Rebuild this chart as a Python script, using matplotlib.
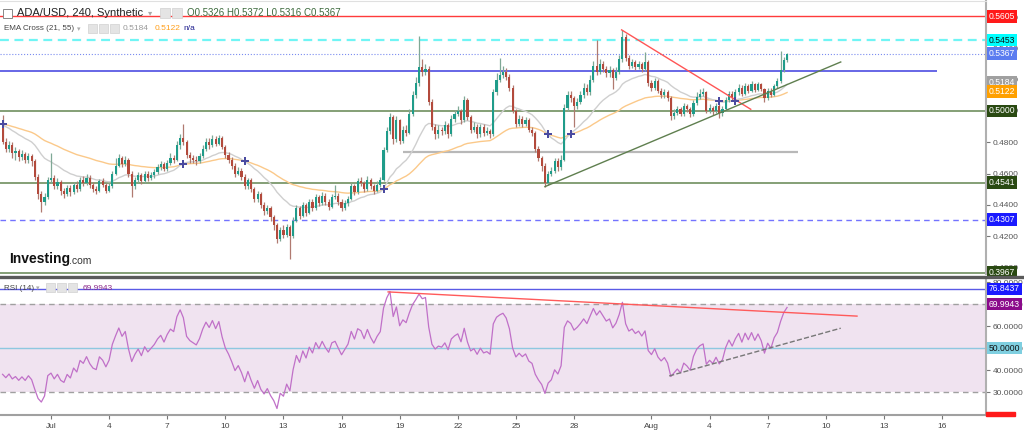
import numpy as np
import pandas as pd
import matplotlib
matplotlib.use("Agg")
import matplotlib.pyplot as plt
import matplotlib.dates as mdates
import matplotlib.transforms as mtransforms
from matplotlib.patches import Rectangle
from matplotlib.lines import Line2D

FONT = ["Liberation Sans", "DejaVu Sans"]
plt.rcParams["font.family"] = FONT

# ADA/USD 4h candles, open of each candle = previous close
first_open = 0.4915
closes = [
    0.4800, 0.4760, 0.4785, 0.4730, 0.4745, 0.4705, 0.4725, 0.4690, 0.4715, 0.4680,
    0.4580, 0.4470, 0.4420, 0.4450, 0.4560, 0.4575, 0.4520, 0.4545, 0.4490, 0.4470,
    0.4510, 0.4480, 0.4530, 0.4500, 0.4560, 0.4540, 0.4575, 0.4530, 0.4500, 0.4490,
    0.4550, 0.4530, 0.4490, 0.4520, 0.4600, 0.4650, 0.4700, 0.4660, 0.4690, 0.4600,
    0.4520, 0.4560, 0.4590, 0.4550, 0.4600, 0.4570, 0.4590, 0.4610, 0.4640, 0.4660,
    0.4630, 0.4670, 0.4700, 0.4690, 0.4780, 0.4830, 0.4800, 0.4720, 0.4700, 0.4690,
    0.4680, 0.4710, 0.4760, 0.4800, 0.4780, 0.4820, 0.4790, 0.4830, 0.4770, 0.4720,
    0.4690, 0.4650, 0.4600, 0.4620, 0.4580, 0.4520, 0.4560, 0.4500, 0.4440, 0.4470,
    0.4400, 0.4360, 0.4380, 0.4320, 0.4270, 0.4180, 0.4240, 0.4210, 0.4260, 0.4200,
    0.4300, 0.4380, 0.4330, 0.4400, 0.4350, 0.4420, 0.4380, 0.4450, 0.4410, 0.4460,
    0.4420, 0.4390, 0.4450, 0.4460, 0.4420, 0.4380, 0.4410, 0.4440, 0.4520, 0.4480,
    0.4550, 0.4540, 0.4500, 0.4560, 0.4520, 0.4490, 0.4530, 0.4560, 0.4750, 0.4870,
    0.4960, 0.4820, 0.4940, 0.4810, 0.4880, 0.4860, 0.4980, 0.5100, 0.5180, 0.5280,
    0.5250, 0.5270, 0.5060, 0.4900, 0.4850, 0.4880, 0.4870, 0.4910, 0.4850, 0.4950,
    0.4980, 0.5000, 0.4940, 0.5070, 0.4960, 0.4880, 0.4900, 0.4850, 0.4900, 0.4860,
    0.4870, 0.4850, 0.5120, 0.5200, 0.5230, 0.5250, 0.5220, 0.5150, 0.5000, 0.4920,
    0.4950, 0.4920, 0.4940, 0.4880, 0.4860, 0.4760, 0.4700, 0.4650, 0.4540, 0.4600,
    0.4620, 0.4680, 0.4640, 0.4690, 0.5020, 0.5100, 0.5080, 0.5030, 0.5060, 0.5100,
    0.5150, 0.5120, 0.5200, 0.5290, 0.5250, 0.5300, 0.5270, 0.5240, 0.5260, 0.5210,
    0.5250, 0.5330, 0.5470, 0.5340, 0.5290, 0.5310, 0.5280, 0.5300, 0.5270, 0.5310,
    0.5180, 0.5150, 0.5190, 0.5130, 0.5100, 0.5120, 0.5080, 0.4970, 0.4990, 0.5010,
    0.4980, 0.5030, 0.5010, 0.4980, 0.5050, 0.5090, 0.5110, 0.5120, 0.5000, 0.5020,
    0.5000, 0.5030, 0.4990, 0.5010, 0.5070, 0.5110, 0.5080, 0.5120, 0.5150, 0.5110,
    0.5160, 0.5130, 0.5170, 0.5135, 0.5170, 0.5140, 0.5080, 0.5130, 0.5105, 0.5160,
    0.5190, 0.5260, 0.5326, 0.5367,
]
highs = [
    0.4975, 0.4830, 0.4810, 0.4800, 0.4770, 0.4760, 0.4750, 0.4740, 0.4730, 0.4725,
    0.4695, 0.4600, 0.4490, 0.4475, 0.4580, 0.4730, 0.4590, 0.4570, 0.4560, 0.4510,
    0.4530, 0.4525, 0.4545, 0.4550, 0.4580, 0.4585, 0.4600, 0.4590, 0.4545, 0.4520,
    0.4565, 0.4570, 0.4540, 0.4540, 0.4620, 0.4700, 0.4725, 0.4715, 0.4710, 0.4700,
    0.4615, 0.4580, 0.4610, 0.4605, 0.4620, 0.4615, 0.4610, 0.4630, 0.4660, 0.4680,
    0.4675, 0.4690, 0.4730, 0.4720, 0.4810, 0.4850, 0.4917, 0.4815, 0.4740, 0.4720,
    0.4710, 0.4730, 0.4780, 0.4830, 0.4825, 0.4845, 0.4840, 0.4845, 0.4840, 0.4785,
    0.4735, 0.4705, 0.4665, 0.4645, 0.4635, 0.4595, 0.4575, 0.4570, 0.4515, 0.4490,
    0.4485, 0.4420, 0.4400, 0.4395, 0.4335, 0.4285, 0.4260, 0.4270, 0.4280, 0.4270,
    0.4320, 0.4400, 0.4395, 0.4420, 0.4410, 0.4440, 0.4435, 0.4470, 0.4465, 0.4480,
    0.4475, 0.4440, 0.4470, 0.4527, 0.4475, 0.4435, 0.4430, 0.4460, 0.4540, 0.4535,
    0.4575, 0.4580, 0.4555, 0.4585, 0.4575, 0.4535, 0.4550, 0.4580, 0.4770, 0.4900,
    0.4990, 0.4975, 0.4965, 0.4950, 0.4905, 0.4910, 0.5010, 0.5130, 0.5220, 0.5479,
    0.5330, 0.5300, 0.5285, 0.5075, 0.4920, 0.4910, 0.4900, 0.4935, 0.4925, 0.4975,
    0.5005, 0.5030, 0.5015, 0.5095, 0.5085, 0.4975, 0.4930, 0.4915, 0.4920, 0.4915,
    0.4895, 0.4885, 0.5140, 0.5240, 0.5338, 0.5290, 0.5275, 0.5235, 0.5165, 0.5015,
    0.4975, 0.4965, 0.4960, 0.4955, 0.4900, 0.4875, 0.4775, 0.4715, 0.4665, 0.4620,
    0.4645, 0.4700, 0.4700, 0.4720, 0.5045, 0.5130, 0.5125, 0.5095, 0.5085, 0.5125,
    0.5180, 0.5170, 0.5230, 0.5320, 0.5453, 0.5330, 0.5320, 0.5290, 0.5285, 0.5275,
    0.5280, 0.5360, 0.5518, 0.5490, 0.5355, 0.5335, 0.5325, 0.5320, 0.5315, 0.5375,
    0.5325, 0.5200, 0.5210, 0.5205, 0.5145, 0.5140, 0.5135, 0.5095, 0.5010, 0.5030,
    0.5025, 0.5050, 0.5045, 0.5025, 0.5070, 0.5120, 0.5140, 0.5145, 0.5130, 0.5045,
    0.5035, 0.5050, 0.5045, 0.5030, 0.5090, 0.5130, 0.5125, 0.5140, 0.5170, 0.5165,
    0.5180, 0.5175, 0.5190, 0.5180, 0.5185, 0.5180, 0.5150, 0.5150, 0.5145, 0.5175,
    0.5210, 0.5380, 0.5345, 0.5372,
]
lows = [
    0.4790, 0.4735, 0.4740, 0.4700, 0.4690, 0.4680, 0.4690, 0.4665, 0.4670, 0.4650,
    0.4560, 0.4440, 0.4355, 0.4400, 0.4440, 0.4540, 0.4500, 0.4505, 0.4465, 0.4445,
    0.4460, 0.4460, 0.4470, 0.4485, 0.4490, 0.4520, 0.4530, 0.4510, 0.4480, 0.4470,
    0.4480, 0.4515, 0.4475, 0.4480, 0.4510, 0.4590, 0.4640, 0.4640, 0.4650, 0.4580,
    0.4450, 0.4505, 0.4545, 0.4535, 0.4540, 0.4555, 0.4560, 0.4575, 0.4595, 0.4625,
    0.4615, 0.4620, 0.4655, 0.4670, 0.4680, 0.4760, 0.4785, 0.4700, 0.4670, 0.4665,
    0.4655, 0.4665, 0.4700, 0.4745, 0.4760, 0.4770, 0.4775, 0.4780, 0.4755, 0.4700,
    0.4670, 0.4630, 0.4580, 0.4590, 0.4560, 0.4500, 0.4505, 0.4480, 0.4420, 0.4420,
    0.4380, 0.4335, 0.4340, 0.4300, 0.4240, 0.4160, 0.4170, 0.4190, 0.4195, 0.4055,
    0.4190, 0.4290, 0.4310, 0.4320, 0.4330, 0.4340, 0.4360, 0.4370, 0.4395, 0.4400,
    0.4400, 0.4370, 0.4380, 0.4435, 0.4400, 0.4360, 0.4365, 0.4395, 0.4430, 0.4465,
    0.4470, 0.4520, 0.4480, 0.4490, 0.4500, 0.4470, 0.4480, 0.4515, 0.4550, 0.4735,
    0.4850, 0.4790, 0.4800, 0.4790, 0.4795, 0.4840, 0.4850, 0.4965, 0.5085, 0.5160,
    0.5225, 0.5230, 0.5040, 0.4880, 0.4820, 0.4830, 0.4845, 0.4855, 0.4830, 0.4840,
    0.4930, 0.4965, 0.4920, 0.4930, 0.4940, 0.4860, 0.4865, 0.4830, 0.4835, 0.4840,
    0.4845, 0.4830, 0.4840, 0.5100, 0.5185, 0.5210, 0.5200, 0.5130, 0.4985, 0.4900,
    0.4905, 0.4900, 0.4905, 0.4865, 0.4840, 0.4740, 0.4680, 0.4620, 0.4515, 0.4530,
    0.4585, 0.4605, 0.4620, 0.4625, 0.4680, 0.5000, 0.5055, 0.4900, 0.5010, 0.5045,
    0.5085, 0.5100, 0.5105, 0.5185, 0.5230, 0.5235, 0.5250, 0.5220, 0.5220, 0.5140,
    0.5195, 0.5235, 0.5315, 0.5320, 0.5270, 0.5275, 0.5260, 0.5265, 0.5250, 0.5255,
    0.5160, 0.5130, 0.5135, 0.5115, 0.5080, 0.5085, 0.5065, 0.4940, 0.4950, 0.4975,
    0.4965, 0.4970, 0.4995, 0.4960, 0.4970, 0.5040, 0.5075, 0.5095, 0.4985, 0.4985,
    0.4975, 0.4985, 0.4955, 0.4965, 0.5000, 0.5055, 0.5065, 0.5070, 0.5105, 0.5095,
    0.5100, 0.5115, 0.5120, 0.5120, 0.5125, 0.5125, 0.5060, 0.5070, 0.5090, 0.5095,
    0.5150, 0.5180, 0.5250, 0.5316,
]

# indicator seeds read at the left edge of the chart
ema21_seed = 0.4925
ema55_seed = 0.4922
rsi_avg_gain_seed = 0.0030
rsi_avg_loss_seed = 0.0040

# horizontal levels drawn on the price panel
red_level = 0.5605
cyan_level = 0.5453
last_price = 0.5367
blue_level = 0.5254
gray_level = 0.4740
green_levels = [0.5000, 0.4541, 0.3967]
blue_dashed_level = 0.4307

# trend lines (date, value)
red_trend = [("2022-07-30 11:00", 0.5518), ("2022-08-06 03:00", 0.5011)]
green_trend = [("2022-07-26 12:00", 0.4517), ("2022-08-10 18:30", 0.5313)]
rsi_red_trend = [("2022-07-18 09:40", 75.5), ("2022-08-11 14:40", 64.5)]
rsi_dash_trend = [("2022-08-01 22:00", 37.3), ("2022-08-10 18:30", 59.0)]

# right-hand labels: value, background, text colour
price_labels = [
    (0.5605, "#ff1a1a", "white"),
    (0.5453, "#00ffff", "#111111"),
    (0.5367, "#5b7cf0", "white"),
    (0.5184, "#a0a0a0", "white"),
    (0.5122, "#ffa000", "white"),
    (0.5000, "#2a4a12", "white"),
    (0.4541, "#2a4a12", "white"),
    (0.4307, "#1a1aff", "white"),
    (0.3967, "#2a4a12", "white"),
]
rsi_labels = [
    (76.8437, "#1a1aff", "white"),
    (69.9943, "#8b0a8b", "white"),
    (50.0000, "#7fcfe0", "#111111"),
]
rsi_upper_line = 76.8437

tick_dates = ["2022-07-01", "2022-07-04", "2022-07-07", "2022-07-10", "2022-07-13",
              "2022-07-16", "2022-07-19", "2022-07-22", "2022-07-25", "2022-07-28",
              "2022-08-01", "2022-08-04", "2022-08-07", "2022-08-10", "2022-08-13",
              "2022-08-16"]
tick_labels = ["Jul", "4", "7", "10", "13", "16", "19", "22", "25", "28",
               "Aug", "4", "7", "10", "13", "16"]

# ---- derived series ----
closes = np.array(closes)
highs = np.array(highs)
lows = np.array(lows)
opens = np.concatenate([[first_open], closes[:-1]])
dates = pd.date_range("2022-06-28 12:00", periods=len(closes), freq="4h")
x = mdates.date2num(dates)


def ema(values, span, seed):
    k = 2.0 / (span + 1)
    out, e = [], seed
    for v in values:
        e = e + k * (v - e)
        out.append(e)
    return np.array(out)


ema21 = ema(closes, 21, ema21_seed)
ema55 = ema(closes, 55, ema55_seed)

rsi = []
g, l, prev = rsi_avg_gain_seed, rsi_avg_loss_seed, first_open
for c in closes:
    d = c - prev
    g = (g * 13 + max(d, 0)) / 14
    l = (l * 13 + max(-d, 0)) / 14
    rsi.append(100 - 100 / (1 + g / l))
    prev = c
rsi = np.array(rsi)

diff = np.concatenate([[ema21_seed - ema55_seed], ema21 - ema55])
cross_idx = np.where(np.sign(diff[1:]) != np.sign(diff[:-1]))[0]

# ---- figure ----
W, H = 1024, 433
fig = plt.figure(figsize=(W / 100, H / 100), dpi=100)
fig.patch.set_facecolor("white")


def px(xp, yp):
    return xp / W, 1 - yp / H


ax = fig.add_axes([0, 1 - 274 / H, 986 / W, 273 / H])
rax = fig.add_axes([0, 1 - 415 / H, 986 / W, 137 / H])

x_left = mdates.date2num(pd.Timestamp("2022-07-01")) - 51 / 19.37
x_right = mdates.date2num(pd.Timestamp("2022-07-01")) + 935 / 19.37
for a in (ax, rax):
    a.set_xlim(x_left, x_right)
    a.set_facecolor("white")
    for s in ("left", "top"):
        a.spines[s].set_visible(False)
    a.spines["right"].set_color("#b0b0b0")
    a.spines["right"].set_linewidth(1.5)
    a.yaxis.tick_right()
    a.tick_params(axis="y", length=3, color="#777777", labelsize=6,
                  labelcolor="#555555", pad=2)

ax.set_ylim(0.39591, 0.57024)
ax.spines["bottom"].set_visible(False)
ax.spines["top"].set_visible(True)
ax.spines["top"].set_color("#e0e0e0")
ax.set_xticks([])
ax.set_yticks(np.arange(0.40, 0.5601, 0.02))
ax.yaxis.set_major_formatter(plt.FormatStrFormatter("%.4f"))

# levels
ax.axhline(red_level, color="#ff3b3b", lw=1.0, zorder=1)
ax.axhline(cyan_level, color="#70f5f5", lw=1.6, dashes=(4, 2.5), zorder=1)
ax.axhline(last_price, color="#7a8cf0", lw=0.8, ls=":", zorder=1)
for lv in green_levels:
    ax.axhline(lv, color="#6f8f5f", lw=1.2, zorder=1)
ax.axhline(blue_dashed_level, color="#7373ff", lw=1.0, dashes=(4, 3), zorder=1)
ax.hlines(blue_level, x_left, mdates.date2num(pd.Timestamp("2022-08-15 18:00")),
          color="#6666e6", lw=1.4, zorder=1)
ax.hlines(gray_level, mdates.date2num(pd.Timestamp("2022-07-19 04:00")),
          mdates.date2num(pd.Timestamp("2022-08-08 13:40")),
          color="#b8b8b8", lw=1.6, zorder=1)

# EMAs
ax.plot(x, ema55, color="#fbc98a", lw=1.0, zorder=2)
ax.plot(x, ema21, color="#cfcfcf", lw=1.0, zorder=2)

# candles
up = closes >= opens
body_col = np.where(up, "#1f9c8a", "#b34a3c")
wick_col = np.where(up, "#7fa896", "#b07a70")
ax.vlines(x, lows, highs, colors=wick_col, lw=0.9, zorder=3)
ax.bar(x, np.maximum(np.abs(closes - opens), 0.0005), 0.11,
       bottom=np.minimum(opens, closes), color=body_col, lw=0, zorder=4)

# trend lines
for pts, col in ((red_trend, "#ff5555"), (green_trend, "#5f7f4f")):
    xs = [mdates.date2num(pd.Timestamp(d)) for d, _ in pts]
    ax.plot(xs, [v for _, v in pts], color=col, lw=1.0, zorder=5)

# EMA cross markers
ax.scatter(x[cross_idx], ema55[cross_idx], marker="P", s=38, color="#4a4aa0",
           zorder=6, linewidths=0)

# right-hand labels
tr = mtransforms.blended_transform_factory(ax.transAxes, ax.transData)
for v, bg, fg in price_labels:
    ax.text(1.003, v, f"{v:.4f}", transform=tr, fontsize=6.2, color=fg, va="center",
            ha="left", clip_on=False, zorder=10,
            bbox=dict(boxstyle="square,pad=0.22", fc=bg, ec="none"))

# ---- RSI panel ----
rax.set_ylim(19.55, 81.82)
rax.axhspan(30, 70, color="#f0e3f0", zorder=0, lw=0)
rax.axhline(70, color="#a0a0a0", lw=1.0, dashes=(4, 3), zorder=1)
rax.axhline(30, color="#a0a0a0", lw=1.0, dashes=(4, 3), zorder=1)
rax.axhline(50, color="#8ec8e0", lw=1.0, zorder=1)
rax.axhline(rsi_upper_line, color="#5a5ae6", lw=1.0, zorder=1)
rax.plot(x, rsi, color="#c070c8", lw=0.9, zorder=3)
for pts, col, ls in ((rsi_red_trend, "#ff5a5a", "-"), (rsi_dash_trend, "#777777", "--")):
    xs = [mdates.date2num(pd.Timestamp(d)) for d, _ in pts]
    rax.plot(xs, [v for _, v in pts], color=col, lw=1.0, ls=ls, zorder=4)

rax.set_yticks([30, 40, 50, 60, 70, 80])
rax.yaxis.set_major_formatter(plt.FormatStrFormatter("%.4f"))
rax.spines["bottom"].set_color("#a0a0a0")
rax.spines["bottom"].set_linewidth(1.5)
rax.set_xticks([mdates.date2num(pd.Timestamp(d)) for d in tick_dates])
rax.set_xticklabels(tick_labels)
rax.tick_params(axis="x", length=3, color="#777777", labelsize=6,
                labelcolor="#444444", pad=3)

rtr = mtransforms.blended_transform_factory(rax.transAxes, rax.transData)
for v, bg, fg in rsi_labels:
    rax.text(1.003, v, f"{v:.4f}", transform=rtr, fontsize=6.2, color=fg, va="center",
             ha="left", clip_on=False, zorder=10,
             bbox=dict(boxstyle="square,pad=0.22", fc=bg, ec="none"))

# separator between panels and clipped red label at the bottom
fig.lines.append(Line2D([0, 1], [1 - 276.5 / H] * 2, transform=fig.transFigure,
                        color="#5a5a5a", lw=2.4))
fig.patches.append(Rectangle(px(986, 416), 29 / W, 4 / H, transform=fig.transFigure,
                             color="#ff1a1a"))


# ---- header texts ----
def icon(xp, yp, w=10, h=10):
    fig.patches.append(Rectangle(px(xp, yp + h), w / W, h / H, transform=fig.transFigure,
                                 fc="#e4e4e4", ec="#d0d0d0", lw=0.5, zorder=20))


fig.patches.append(Rectangle(px(3, 18), 9 / W, 9 / H, transform=fig.transFigure,
                             fc="white", ec="#888888", lw=0.7, zorder=20))
fig.text(*px(17, 13), "ADA/USD, 240, Synthetic", fontsize=8, color="#222222",
         va="center", zorder=21)
fig.text(*px(148, 13), "▾", fontsize=6, color="#aaaaaa", va="center",
         family="DejaVu Sans", zorder=21)
icon(160, 8)
icon(172, 8)
fig.text(*px(187, 13), "O0.5326 H0.5372 L0.5316 C0.5367", fontsize=7,
         color="#3d6b3d", va="center", zorder=21)

fig.text(*px(4, 29), "EMA Cross (21, 55)", fontsize=5.8, color="#444444", va="center", zorder=21)
fig.text(*px(77, 29), "▾", fontsize=5, color="#aaaaaa", va="center",
         family="DejaVu Sans", zorder=21)
icon(88, 24, 9, 9)
icon(99, 24, 9, 9)
icon(110, 24, 9, 9)
fig.text(*px(123, 29), "0.5184", fontsize=6, color="#999999", va="center", zorder=21)
fig.text(*px(155, 29), "0.5122", fontsize=6, color="#ff9f1a", va="center", zorder=21)
fig.text(*px(183, 29), "n/a", fontsize=6, color="#1a1a8c", va="center", zorder=21)

fig.text(*px(4, 288), "RSI (14)", fontsize=5.8, color="#444444", va="center", zorder=21)
fig.text(*px(36, 288), "▾", fontsize=5, color="#aaaaaa", va="center",
         family="DejaVu Sans", zorder=21)
icon(46, 283, 9, 9)
icon(57, 283, 9, 9)
icon(68, 283, 9, 9)
fig.text(*px(83, 288), "69.9943", fontsize=6, color="#8b2a8b", va="center", zorder=21)

fig.text(*px(9, 259), "Investing", fontsize=10, weight="bold", color="#111111",
         va="center", zorder=21)
fig.text(*px(69, 261), ".com", fontsize=7.5, color="#333333", va="center", zorder=21)

fig.savefig("out.png", dpi=100, facecolor="white")
